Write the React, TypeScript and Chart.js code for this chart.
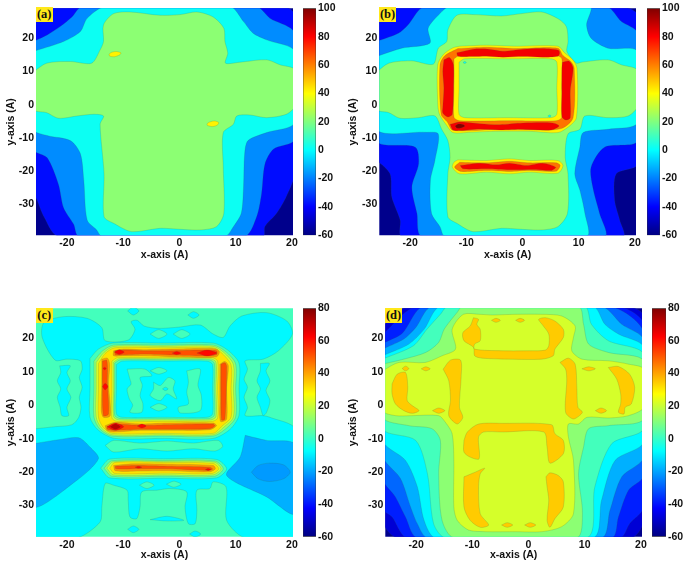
import React, { useEffect, useRef } from "react";
import { Chart, registerables } from "chart.js";
Chart.register(...registerables);

const xTicks = [-20, -10, 0, 10, 20];
const yTicks = [-30, -20, -10, 0, 10, 20];
const xRange = [-25.5, 20.2];
const yRange = [-39.3, 29];
const barTicksHigh = [-60, -40, -20, 0, 20, 40, 60, 80, 100];
const barTicksLow = [-60, -40, -20, 0, 20, 40, 60, 80];
const whole = [-60, 60, 60, 60, 60, -70, -60, -70];

// ---------- panel (a): contour outlines as [x, y, x, y, ...] in axis units
const aM40 = [-40, 45, 18.8, 29.5, 20.5, 27, 20.5, -20.8, 19, -27.7, 17.3, -32.7, 15.2, -36.7, 14.9, -39.6, -21.5, -39.6, -24.1, -33.7, -26, -26.7, -40, 0];
const aM20 = [-26, 19, -23.5, 21, -21.2, 23.5, -19.1, 26.4, -17.3, 29.5, 13.7, 29.5, 16.1, 26, 20.5, 21.5, 20.5, -10.4, 16.7, -13.4, 15.2, -17.9, 14.6, -26.9, 13.7, -33.9, 11.6, -39.6, -17.9, -39.6, -18.8, -36, -20.6, -31, -21.5, -24, -23.5, -16, -26, -13.4];
const aZero = [-26, 16, -20.6, 19, -17.6, 22, -16.4, 26, -13.2, 29.5, 9, 29.5, 11.4, 25, 13.1, 21.5, 15.5, 19.5, 20.5, 16, 20.5, -5.4, 15.5, -8.4, 12.2, -10.8, 11.6, -14.8, 11.4, -24.8, 11, -32.7, 9.6, -36.7, 8.1, -39.6, -13.8, -39.6, -14.7, -37.7, -16.4, -34.7, -17, -22.8, -17.6, -14.8, -19.4, -10.8, -23.5, -9.3, -26, -7.4];
const aGreen = [-26, 9.8, -23.6, 12.5, -19.4, 13, -15.6, 12.5, -14.1, 16.5, -13.5, 19, -13.5, 24, -11.7, 27.4, -8.8, 27.9, -3.4, 26.9, 0.1, 27.1, 3.1, 27.9, 6, 26.4, 7.9, 23, 8.1, 19, 8.6, 15.5, 8.2, 12.5, 10.8, 12.8, 15.5, 13.5, 17.9, 12, 20.5, 10.5, 20.5, -0.4, 19, -2.9, 15.5, -3.9, 12.5, -3.1, 10.2, -3.4, 9.6, -5.9, 7.8, -8.4, 7.8, -18.8, 7.9, -32.7, 6.6, -36.7, 3.7, -37.7, 0.1, -37.5, -3.4, -37.2, -8.5, -38.2, -11.7, -35.7, -13.4, -33.7, -13.4, -20.8, -14.1, -5.9, -13.5, -3.4, -15.3, -2.9, -18.2, -3.4, -21.5, -4.1, -23.6, -2.4, -26, -1.4];
const aSpot1 = [-12.4, 14.6, -11.6, 14.4, -10.6, 15, -10.4, 15.6, -11.2, 16, -12, 15.8, -12.5, 15.2];
const aSpot2 = [5, -6.3, 5.8, -6.6, 6.7, -6.2, 7, -5.4, 6.3, -4.9, 5.4, -5.2, 4.9, -5.8];
const layersA: [number, number[]][] = [[-60, whole], [-40, aM40], [-20, aM20], [0, aZero], [20, aGreen], [40, aSpot1], [40, aSpot2]];

// ---------- panel (b)
const bM40 = [-40, 45, 17.9, 29.5, 20.5, 26.9, 20.5, -17.8, 16.7, -20.8, 16.4, -28.7, 17.3, -34.7, 17.9, -39.6, -21.5, -39.6, -21.8, -34.7, -23.3, -27.7, -23.6, -20.8, -26, -16.8, -40, 0];
const bM20 = [-26, 19, -22.1, 21.5, -20.4, 24, -17.4, 29.5, 14.9, 29.5, 17.6, 25, 20.5, 21.5, 20.5, -10.8, 14.6, -12.8, 12.2, -18.8, 12.5, -24.8, 13.7, -32.7, 14.6, -39.6, -17.9, -39.6, -18.8, -32.7, -19.7, -24.8, -18.5, -17.8, -19.1, -12.8, -26, -10.8];
const bZero = [-26, 14.5, -21.5, 17, -16.5, 18.5, -16.8, 23, -15, 26.9, -13, 29.5, 12, 29.5, 11.4, 24, 12.2, 20, 15.2, 17, 20.5, 16, 20.5, -5.4, 15.2, -7.4, 10.8, -8.4, 10.2, -12.8, 9.3, -20.8, 10.2, -25.7, 11.1, -32.7, 11.4, -39.6, -13.8, -39.6, -14.7, -36.7, -16.2, -32.7, -16.4, -22.8, -15.6, -16.8, -15, -8.8, -17.3, -8.3, -26, -7.4];
const bGreen = [-26, 9.8, -23.8, 12.5, -19.7, 13.2, -15.9, 12.2, -15, 17, -13.5, 19, -13.3, 22.5, -11.7, 26.9, -8.5, 27.1, -3.7, 26.7, -0.2, 27.4, 3.4, 27.9, 6.3, 25.9, 7.8, 23.5, 8.1, 19, 7.9, 16, 9.6, 12.5, 10.5, 12.8, 15.2, 13.5, 17.6, 12, 20.5, 10.3, 20.5, -0.4, 18.8, -3.4, 15.2, -3.9, 11.1, -3.4, 10.2, -7.4, 8.1, -8.8, 7.6, -15.8, 8.1, -20.8, 8, -32.7, 6.3, -36.7, 3.4, -37.7, -0.2, -37.5, -3.7, -37.2, -8.8, -38.2, -11.7, -35.7, -13.3, -33.7, -13.3, -20.8, -12.9, -15.8, -13.3, -10.8, -14.4, -7.4, -15.6, -3.4, -18.5, -3.9, -21.8, -4.1, -23.8, -2.4, -26, -1.4];
const bRingYellow = [-11.2, 17.6, -6.4, 17.9, -1.1, 17.6, 6.3, 17.6, 7.5, 15.6, 8.9, 13.6, 9.7, 11, 9.6, -3.9, 8.3, -6.5, 6.3, -8.4, 1.2, -8, -4.7, -8, -9.4, -8.3, -12.4, -8.4, -13.6, -6, -14.8, -2.9, -15.1, 0.6, -15.1, 12, -14.1, 15.1, -12.4, 17.1];
const bRingOrange = [-11.5, 16.9, -6.4, 17.3, -1.1, 16.9, 6.3, 17, 7.2, 14.8, 8.6, 13, 9.2, 11, 9, -3.9, 6.9, -7.2, 1.2, -7.6, -4.7, -7.5, -12.4, -7.7, -13.4, -5.2, -14.5, -2.9, -14.7, 12, -13.8, 14.8];
const bInnerYellow = [-12.2, 13.8, -11.2, 14.8, -2, 14.8, 6, 14.8, 7, 13.8, 7, 5, 7, -3.8, 6, -4.8, -2, -4.8, -11.2, -4.8, -12.2, -3.8, -12.2, 5];
const bInnerGreen = [-11.3, 12.8, -10.3, 13.8, -2.5, 13.8, 5.1, 13.8, 6.1, 12.8, 6.1, 5, 6.1, -2.9, 5.1, -3.9, -2.5, -3.9, -10.3, -3.9, -11.3, -2.9, -11.3, 5];
const bDot1 = [-10.6, 12.7, -10.3, 13, -10, 12.7, -10.3, 12.4];
const bDot2 = [4.5, -3.4, 4.8, -3.1, 5.1, -3.4, 4.8, -3.7];
const bRedTop = [-11.7, 15.6, -8.8, 16.7, -5.9, 16.7, -3.5, 16.1, 0.1, 16.7, 3.6, 16.9, 6.4, 16.4, 6.6, 15.5, 6.3, 14.6, 3.6, 14.3, 0.1, 14.5, -3.5, 14.3, -6.4, 14.6, -8.8, 14.5, -11.5, 14.6];
const bRedLeft = [-14, 13.5, -13, 14.2, -12.3, 12, -12.3, 5, -12.5, -2.9, -13.3, -3.7, -14.2, -2.5, -14.2, -0.9, -14, 5, -14.2, 10];
const bRedRight = [7.1, 12.8, 8.3, 13.1, 9, 11, 8.5, 4.1, 8.5, -3.9, 7.7, -4.6, 7, -3.6, 7, 4.1, 7, 11];
const bRedBottom = [-12.9, -5.9, -11.2, -5.2, -7.6, -5.7, -4.1, -6, 0.1, -5.5, 5.4, -5.5, 6.5, -6.4, 5.1, -7.6, 0.1, -7.4, -4.1, -7.6, -7.6, -7.3, -11.2, -7.8, -12.4, -7.6];
const bDark = [-12, -6.4, -11.4, -5.8, -10.5, -6, -10.3, -6.5, -11, -7, -11.7, -7];
const bBarYellow = [-11.5, -16.6, -6.4, -16.8, -2.3, -16.3, 1.2, -16.8, 6.3, -16.8, 7.2, -18.3, 6.3, -20.6, 1.2, -20.3, -2.3, -20.8, -6.4, -20.3, -11.2, -20.8, -12.5, -18.8, -12.2, -17.3];
const bBarOrange = [-11.2, -17.3, -6.4, -17.5, -2.3, -17, 1.2, -17.5, 6, -17.5, 6.7, -18.3, 6, -20, 1.2, -19.8, -2.3, -20.1, -6.4, -19.8, -10.9, -20.1, -12.1, -18.8];
const bBarRed = [-11.1, -18.3, -7.6, -17.6, -4.7, -18.1, -2.3, -17.6, 0.7, -18.3, 3.6, -17.6, 5.9, -18.8, 5.1, -19.8, 2.4, -19.5, -2.3, -19.6, -6.4, -19.3, -10.6, -19.3];
const layersB: [number, number[]][] = [[-60, whole], [-40, bM40], [-20, bM20], [0, bZero], [20, bGreen], [40, bRingYellow], [60, bRingOrange], [40, bInnerYellow], [20, bInnerGreen], [0, bDot1], [0, bDot2], [80, bRedTop], [80, bRedLeft], [80, bRedRight], [80, bRedBottom], [100, bDark], [40, bBarYellow], [60, bBarOrange], [80, bBarRed]];

// ---------- panel (c)
const cCyan = [-26, -7.1, -22.1, -6.4, -19.1, -5.8, -17.9, -3.6, -17.5, -0.6, -17.8, 2.4, -17.3, 5.4, -17.8, 8.3, -17.3, 10.8, -17.6, 13.3, -20, 13.8, -22.1, 13.5, -24.4, 20.3, -24.1, 24.7, -20.6, 26.5, -16.4, 26, -13.8, 23.2, -13.2, 19.3, -9.1, 19.5, -7.9, 22.7, -8.6, 25, -7.5, 25.4, -6.3, 23.7, -3.7, 23, 0.1, 23.4, 3.7, 24, 6, 21.3, 7.8, 20.3, 9, 23.7, 11.1, 26.7, 15.5, 27.7, 19.1, 25.2, 20.1, 21.3, 17.6, 16.3, 14.9, 13.8, 11.7, 13.3, 12.1, 10.8, 11.5, 7.8, 12.1, 5.4, 11.5, 2.4, 12.1, -0.6, 11.7, -3.1, 14.9, -3.1, 16.1, -3.6, 20.6, -7.1, 20.6, -25, 20.6, -39.7, 11.7, -39.7, 8.4, -34.4, 8.3, -24.4, 6, -22.9, 5.4, -24.9, 3.1, -25.4, 3.1, -31.4, 2.8, -35.4, 1.6, -35.4, 1, -30.4, 1.3, -25.9, -1.7, -24.9, -4, -25.4, -6.7, -25.9, -7, -30.4, -7.6, -33.9, -8.8, -33.4, -9.1, -28.4, -9.3, -25.4, -11.7, -23.9, -13.2, -23.4, -13.8, -30.4, -14.1, -34.9, -18.2, -39.7, -26, -39.7, -26, -25];
const cStripL = [-21.3, 11.8, -19.4, 11.8, -20, 9.8, -19.4, 7.3, -20, 4.9, -19.3, 2.4, -20, -0.6, -19.7, -3.1, -20.9, -3.1, -21.2, -0.6, -21.7, 2.4, -21.1, 4.9, -21.7, 7.3, -21.1, 9.8];
const cStripR = [14.4, 12.5, 16, 12.5, 15.4, 10.3, 16.1, 7.3, 15.4, 4.4, 16.1, 1.4, 15.5, -2.1, 14.9, -3.1, 14.4, -0.6, 13.8, 2.4, 14.4, 4.9, 13.8, 7.3, 14.4, 10.3];
const cCyanTop1 = [-9.2, 28.2, -8.2, 29.4, -7.2, 28.2, -8.2, 27];
const cCyanTop2 = [1.5, 27, 2.5, 28, 3.5, 27, 2.5, 26];
const cCyanBot1 = [-9.2, -37.1, -8.2, -36.1, -7.2, -37.1, -8.2, -38.1];
const cCyanBot2 = [1.8, -38.5, 2.8, -37.6, 3.8, -38.5, 2.8, -39.4];
const cCyanBot3 = [-5.2, -34.2, -2.2, -33.2, 0.8, -34.4, -2.2, -34.6];
const cBlueL = [-26, -11.5, -21.5, -10.3, -17.9, -9.7, -15.9, -12.5, -14.4, -16, -18.2, -22.4, -26, -30.4];
const cBlueR = [11.7, -9, 15.5, -10.5, 20.5, -11.7, 20.5, -32.4, 15.5, -27.4, 8.4, -21, 10.8, -15.5];
const cBlueOval = [12.8, -20, 14, -18, 16, -17.3, 18.5, -17.8, 19.7, -20, 18.5, -22, 16, -22.8, 14, -22];
const cTealTop1 = [-5.2, 21.3, -3.7, 22.6, -2.2, 21.3, -3.7, 20];
const cTealTop2 = [-1.1, 21.3, 0.4, 22.6, 1.9, 21.3, 0.4, 20];
const cRibbon = [-13.2, -12, -11.7, -10.5, -7, -11.3, -2.2, -10.7, 2.5, -11.3, 6.9, -10.5, 7.7, -12.3, 6.3, -13.7, 2.5, -13, -2.2, -13.7, -7, -13, -11.7, -14];
const cBelow1 = [-7.1, -23.9, -5.8, -22.9, -4.5, -23.9, -5.8, -24.9];
const cBelow2 = [-2.3, -23.6, -1, -22.7, 0.3, -23.6, -1, -24.5];
const cRing0 = [-15.9, 14, -14.4, 16.8, -11.8, 18.6, -3, 18.6, 6, 18.6, 8.6, 16.5, 10.6, 12.6, 10.6, 5, 10.6, -3, 9, -7.2, 6, -9.9, -3, -9.9, -11.5, -9.9, -14.4, -7.5, -15.9, -3.6, -15.9, 5];
const cRing10 = [-15.2, 13.2, -13.7, 16.2, -11.7, 18, -3, 18, 6, 18, 8.2, 16.1, 10, 12.4, 10, 5, 10, -3.5, 8.4, -6.8, 6, -9.2, -3, -9.2, -12, -9.2, -14.2, -7, -15.2, -3.5, -15.2, 5];
const cRing20 = [-14.8, 12.8, -13.4, 15.8, -11.6, 17.6, -3, 17.6, 6, 17.6, 7.9, 15.8, 9.6, 12.2, 9.6, 5, 9.6, -3.5, 8, -6.4, 6, -8.8, -3, -8.8, -12, -8.8, -13.9, -6.7, -14.8, -3.5, -14.8, 5];
const cRing30 = [-14.4, 12.5, -13.2, 15.5, -11.5, 17.2, -3, 17.2, 6, 17.2, 7.6, 15.5, 9.2, 12, 9.2, 5, 9.2, -3.5, 7.6, -6.2, 6, -8.4, -3, -8.4, -12, -8.4, -13.6, -6.5, -14.4, -3.5, -14.4, 5];
const cHole20 = [-12, 13.2, -11, 14.2, -3, 14.2, 5.8, 14.2, 6.8, 13.2, 6.8, 5, 6.8, -3.8, 5.8, -4.8, -3, -4.8, -11, -4.8, -12, -3.8, -12, 5];
const cHole10 = [-11.7, 12.9, -10.7, 13.9, -3, 13.9, 5.5, 13.9, 6.5, 12.9, 6.5, 5, 6.5, -3.4, 5.5, -4.4, -3, -4.4, -10.7, -4.4, -11.7, -3.4, -11.7, 5];
const cHole0 = [-11.5, 12.6, -10.5, 13.6, -3, 13.6, 5.2, 13.6, 6.2, 12.6, 6.2, 5, 6.2, -3, 5.2, -4, -3, -4, -10.5, -4, -11.5, -3, -11.5, 5];
const cHoleCyan = [-11.2, 12.2, -10.2, 13.2, -3, 13.2, 4.9, 13.2, 5.9, 12.2, 5.9, 5, 5.9, -2.6, 4.9, -3.6, -3, -3.6, -10.2, -3.6, -11.2, -2.6, -11.2, 5];
const cIslandL = [-9.3, 10.8, -6.1, 10.8, -4.9, 8.8, -7, 8.3, -6.6, 6, -7, 2.9, -6.5, 0.5, -6.7, -2.1, -8.8, -2.1, -8.3, 0, -8.9, 1.9, -9.3, 4.9, -8.6, 6.3, -8.8, 7.8];
const cIslandC = [-4.6, 6.9, -3.4, 5.9, -2, 8.3, -0.8, 7.3, -1.1, 4.9, -0.5, 1.9, -2.2, 3.4, -3.4, 1.4, -5.2, 2.9, -4.6, 4.9];
const cIslandHole = [-3, 4.9, -2.5, 5.4, -2, 4.9, -2.5, 4.4];
const cIslandR = [1.3, 10.3, 3.7, 10.8, 3.3, 6, 3.9, 3, 3.7, -1.6, 0.1, -2.3, -0.2, -0.6, 1.6, 0.4, 1.3, 3.9, 1.6, 6.9];
const cIslandT = [-5.2, 10.3, -3.7, 11.3, -2.2, 10.3, -3.7, 9.3];
const cIslandB = [-5.2, -0.6, -3.7, 0.5, -2.2, -0.6, -3.7, -1.7];
const cTop40 = [-11.7, 16.3, -9.9, 16.8, -6.4, 16.6, -1.1, 16.8, 3.7, 17, 6.6, 16.8, 7.1, 15.8, 6.6, 14.5, 3.7, 14.3, -1.1, 14.5, -6.4, 14.8, -9.9, 14.8, -11.7, 14.8];
const cLeft40 = [-13.8, 13.8, -12.8, 14.1, -12.4, 12.3, -12.6, 6.4, -12.3, -3.1, -13.5, -3.6, -13.9, -1.6, -13.8, 6.4];
const cRight40 = [7.2, 12.3, 8.1, 13.1, 8.7, 11.8, 8.4, 5.4, 8.4, -4.1, 7.3, -4.8, 7.2, 1.4];
const cBottom40 = [-13.2, -6.1, -11.4, -5.1, -7, -5.6, -2.2, -5.3, 6, -5.3, 6.6, -6.1, 5.4, -7.3, -2.2, -7.5, -7, -7.5, -11.7, -8, -12.9, -7.5];
const cTop50 = [-11.4, 16.3, -9.9, 16.5, -6.4, 16.3, -1.1, 16.3, 3.7, 16.5, 6.6, 16.3, 6.6, 15.1, 3.7, 14.8, -1.1, 15, -6.4, 15.3, -11.4, 15.1];
const cLeft50 = [-13.7, 13.2, -12.9, 13.4, -12.8, 6.4, -12.6, -2.6, -13.5, -3.1, -13.7, 6.4];
const cRight50 = [7.4, 12.3, 8.1, 12.7, 8.4, 11.6, 8.1, -4.1, 7.5, -4.4, 7.4, 3.4];
const cBottom50 = [-12.9, -6.4, -11.4, -5.6, -7, -6, -2.2, -5.8, 6, -5.6, 6.3, -6.2, 5.4, -7, -2.2, -7.2, -7, -7.2, -11.7, -7.5, -12.8, -7.2];
const cRed1 = [-11.6, 15.9, -10.7, 16.6, -9.8, 15.9, -10.7, 15.2];
const cRed2 = [-1.3, 15.6, -0.5, 16.1, 0.3, 15.6, -0.5, 15.1];
const cRed3 = [3.1, 15.6, 4.9, 16.5, 6.7, 15.6, 4.9, 14.7];
const cRed4 = [-13.7, 5.6, -13.2, 6.6, -12.7, 5.6, -13.2, 4.6];
const cRed5 = [-13.6, 11, -13.3, 11.4, -13, 11, -13.3, 10.6];
const cRed6 = [-12.9, -6.4, -11.4, -5.3, -9.9, -6.4, -11.4, -7.5];
const cRed7 = [-7.5, -6.2, -6.7, -5.6, -5.9, -6.2, -6.7, -6.8];
const cRed8 = [-7.9, -18.5, -7.3, -18.2, -6.7, -18.5, -7.3, -18.8];
const cRed9 = [4.6, -19.2, 5.1, -18.9, 5.6, -19.2, 5.1, -19.5];
const cDark = [-12.3, -6.4, -11.4, -5.6, -10.5, -6.4, -11.4, -7.2];
const cBar0 = [-14, -18.8, -12.4, -16.1, -2.8, -16, 6.6, -16.2, 8.4, -19, 6.6, -21.7, -2.8, -21.8, -12.4, -21.7];
const cBar10 = [-13.4, -18.8, -12, -16.6, -2.8, -16.5, 6.4, -16.7, 7.8, -19, 6.3, -21.2, -2.8, -21.2, -12, -21.2];
const cBar20 = [-12.9, -18.8, -11.8, -16.9, -2.8, -16.8, 6.2, -17, 7.4, -19, 6, -20.8, -2.8, -20.8, -11.8, -20.8];
const cBar30 = [-12.4, -18.8, -11.5, -17.1, -2.8, -17.1, 6, -17.4, 7, -19, 5.8, -20.4, -2.8, -20.3, -11.5, -20.4];
const cBar40 = [-11.7, -18, -8.2, -17.5, -2.2, -17.6, 6, -18, 6.4, -19, 5.4, -19.9, -2.2, -19.6, -8.2, -19.7, -11.4, -19.6];
const cBar50 = [-11.4, -18.2, -7.6, -18, -2.2, -18.2, 5.4, -18.5, 5.9, -19.1, 4.9, -19.5, -2.2, -19, -7.6, -19, -11.3, -19];
const layersC: [number, number[]][] = [
  [0, whole], [-10, cCyan], [-10, cStripL], [-10, cStripR], [-10, cCyanTop1], [-10, cCyanTop2], [-10, cCyanBot1], [-10, cCyanBot2], [-10, cCyanBot3],
  [-20, cBlueL], [-20, cBlueR], [-23, cBlueOval], [0, cTealTop1], [0, cTealTop2], [0, cRibbon], [0, cBelow1], [0, cBelow2],
  [0, cRing0], [10, cRing10], [20, cRing20], [30, cRing30], [20, cHole20], [10, cHole10], [0, cHole0], [-10, cHoleCyan],
  [0, cIslandL], [0, cIslandC], [-10, cIslandHole], [0, cIslandR], [0, cIslandT], [0, cIslandB],
  [40, cTop40], [40, cLeft40], [40, cRight40], [40, cBottom40], [50, cTop50], [50, cLeft50], [50, cRight50], [50, cBottom50],
  [0, cBar0], [10, cBar10], [20, cBar20], [30, cBar30], [40, cBar40], [50, cBar50],
  [60, cRed1], [60, cRed2], [60, cRed3], [60, cRed4], [60, cRed5], [60, cRed6], [60, cRed7], [60, cRed8], [60, cRed9], [70, cDark],
];

// ---------- panel (d)
const dM50 = [-26, 23.7, -21.4, 29.5, 17.8, 29.5, 20.5, 26.7, 20.5, -34.4, 18.3, -39.6, -23.4, -39.6, -26, -34.4];
const dM40 = [-26, 21.2, -19.9, 29.5, 16, 29.5, 20.5, 24.2, 20.5, -30.4, 18, -35.4, 16.3, -39.6, -21.6, -39.6, -24.3, -33.4, -26, -30.9];
const dM30 = [-26, 18.5, -22.5, 21.5, -18.7, 29.5, 14.5, 29.5, 20.5, 21.7, 20.5, -21, 17.8, -25.4, 16, -33.4, 14.8, -39.6, -19.8, -39.6, -21.9, -33.4, -23.7, -27.4, -26, -21.9];
const dM20 = [-26, 16.8, -22.2, 19.8, -20.1, 23.2, -17.2, 29.5, 13, 29.5, 16.6, 24.2, 20.5, 19.5, 20.5, -15.5, 16.6, -21.4, 14.5, -31.4, 13, -39.6, -18, -39.6, -19.8, -35.4, -21, -30.4, -22.8, -21.9, -26, -15];
const dM10 = [-26, 14.8, -21.3, 18.3, -18.6, 22.7, -15.7, 29.5, 11.5, 29.5, 13.6, 24.2, 16, 21.3, 20.5, 17.3, 20.5, -11, 15.4, -16.5, 13, -28.4, 11.5, -39.6, -16.6, -39.6, -18.6, -34.4, -19.8, -24.4, -21.9, -16.5, -26, -10.5];
const dZero = [-26, 13.8, -20.5, 17.8, -18.1, 22.7, -15.7, 27.2, -14.4, 29.5, 10, 29.5, 11.2, 24.2, 14.2, 19.3, 20.5, 15.3, 20.5, -7, 14.8, -11.5, 11.8, -24.4, 10.4, -39.6, -14.8, -39.6, -16.9, -35.4, -18, -20.5, -20.1, -10.5, -26, -7];
const dP10 = [-26, 12.3, -22.2, 13.8, -18.3, 15.8, -16, 18.8, -15, 22.8, -12.7, 27.8, -11.8, 29.5, 8.9, 29.5, 9.8, 24.2, 10.7, 18.3, 14.2, 15.8, 20.5, 13.3, 20.5, -4.1, 14.2, -6.1, 10.7, -7, 9.8, -12.5, 8.9, -20.5, 9.6, -32.4, 8.6, -39.6, -13.3, -39.6, -15.4, -34.4, -16, -20.5, -15.7, -10.5, -17.2, -7, -21.3, -6.1, -26, -3.6];
const dP20 = [-26, 10.3, -23.1, 12.8, -18.4, 12.8, -15.4, 14.8, -13, 16.8, -13.6, 22.7, -11.6, 27.2, -8.7, 27.2, -6.5, 27, -2.4, 27.2, 2.4, 27.2, 5.9, 26.7, 8.3, 23.7, 8, 20.3, 7.7, 16.3, 9.5, 13.8, 14.2, 13.3, 17.8, 12.3, 20.5, 10.8, 20.5, -0.6, 17.8, -3.1, 14.2, -3.8, 10.4, -3.6, 8.9, -5.6, 7.1, -5.6, 7.1, -9.5, 8, -16.5, 8, -32.4, 5.9, -36.3, 2.4, -37.8, -2.4, -37.8, -7.7, -37.8, -10.7, -37.3, -12.7, -34.4, -13.3, -30.4, -13.3, -16.5, -13.6, -8.5, -14.8, -5.1, -16, -3.1, -20.7, -3.1, -23.7, -3.1, -26, -1.6];
const dTopU = [-9.8, 26.2, -8.9, 25.7, -9.2, 24.2, -8.6, 22.7, -8.6, 19.3, -9.6, 18.3, -9.6, 16.8, -4.7, 16.3, 0, 16.3, 3, 16.5, 3.6, 17.8, 3.6, 21.3, 2.4, 24.2, 1.8, 25.7, 3, 26.2, 4.7, 25.2, 6.2, 22.7, 6.2, 20.3, 4.7, 16.8, 4.4, 14.8, 2.4, 13.8, -3.6, 13.8, -8.3, 14.1, -9.6, 14.8, -9.8, 17.3, -11.5, 19.3, -11.7, 21.7, -10.4, 23.7];
const dSmall1 = [-6.6, 25.4, -5.8, 26, -5, 25.4, -5.8, 24.8];
const dSmall2 = [-2.3, 25.4, -1.5, 26, -0.7, 25.4, -1.5, 24.8];
const dLeftV = [-24.3, 6.4, -23.4, 9.3, -21.9, 9.8, -21.5, 5.4, -21.6, 1.4, -20.7, -0.1, -19.5, -1.6, -20.7, -2.4, -22.2, -1.6, -23.7, 0.4, -24.3, 3.4];
const dSmall3 = [-22.5, 11, -21.9, 11.7, -21.3, 11, -21.9, 10.3];
const dSmall4 = [-19.1, 10.9, -18.3, 11.5, -17.5, 10.9, -18.3, 10.3];
const dSmall5 = [-17.1, -1.6, -16, -0.8, -14.9, -1.6, -16, -2.4];
const dCenterL = [-15.2, 10.8, -13.9, 13.5, -12.1, 13.5, -12, 8.3, -12.3, -0.6, -11.7, -3.6, -12.7, -5.6, -14.2, -3.1, -13.9, 1.4, -14.2, 7.3];
const dCenterR = [5.6, 12.8, 7.1, 14.1, 8.3, 12.3, 8.6, 5.4, 8.8, -0.6, 9.6, -2.1, 8, -4.1, 6.6, -2.1, 6.8, 7.3, 6.6, 10.8];
const dSmall6 = [9.5, 10.9, 10.7, 11.5, 11.9, 10.9, 10.7, 10.3];
const dSmall7 = [11.9, -1.6, 12.9, -0.8, 13.9, -1.6, 12.9, -2.4];
const dRightV = [14.2, 11.3, 16, 11.6, 18, 9.3, 18.9, 5.4, 18.3, 0.4, 17.2, -0.6, 17, -2.6, 16, -2.1, 16.4, 0.4, 16.4, 3.4, 15.7, 7.8];
const dLowerU = [-11.5, -10.5, -10.9, -8, -8.9, -5.6, -4.7, -5.4, 4.1, -5.8, 4.7, -8.5, 6.2, -10.5, 6.2, -14.5, 3.8, -17.3, 3.3, -12.5, 2.7, -8, -4.7, -8, -8, -8, -8.9, -9.5, -8.8, -16, -10.4, -15.5, -11.5, -14];
const dBottomL = [-11.5, -21.4, -9.5, -20, -7.8, -18.8, -8.6, -20.5, -8.9, -24.4, -8.6, -32.4, -7.1, -35.8, -8.6, -36.5, -10.4, -34.4, -11.5, -30.4];
const dSmall8 = [-4.8, -35.8, -3.8, -35.1, -2.8, -35.8, -3.8, -36.5];
const dSmall9 = [-0.7, -35.8, 0.3, -35.1, 1.3, -35.8, 0.3, -36.5];
const dBottomR = [3.1, -21.4, 3.8, -20.2, 5.3, -21, 6.2, -22.9, 6.2, -30.4, 4.7, -33.9, 3.8, -36.5, 3.3, -34.4, 3.6, -28.4, 3.3, -24.4];
const isl = 33;
const layersD: [number, number[]][] = [
  [-60, whole], [-50, dM50], [-40, dM40], [-30, dM30], [-20, dM20], [-10, dM10], [0, dZero], [10, dP10], [20, dP20],
  [isl, dTopU], [isl, dSmall1], [isl, dSmall2], [isl, dLeftV], [isl, dSmall3], [isl, dSmall4], [isl, dSmall5], [isl, dCenterL], [isl, dCenterR], [isl, dSmall6], [isl, dSmall7], [isl, dRightV], [isl, dLowerU], [isl, dBottomL], [isl, dSmall8], [isl, dSmall9], [isl, dBottomR],
];

const jetStops: [number, number, number, number][] = [[0, 0, 0, 128], [0.125, 0, 0, 255], [0.375, 0, 255, 255], [0.625, 255, 255, 0], [0.875, 255, 0, 0], [1, 128, 0, 0]];
function jet(t: number) {
  for (let i = 1; i < jetStops.length; i++) {
    const a = jetStops[i - 1], b = jetStops[i];
    if (t <= b[0]) {
      const f = (t - a[0]) / (b[0] - a[0]);
      return `rgb(${Math.round(a[1] + (b[1] - a[1]) * f)},${Math.round(a[2] + (b[2] - a[2]) * f)},${Math.round(a[3] + (b[3] - a[3]) * f)})`;
    }
  }
  return "rgb(128,0,0)";
}

const family = "'Liberation Sans', Arial, sans-serif";
const tickFont = { family, size: 10.5, weight: "bold" as const };
const titleFont = { family, size: 10.5, weight: "bold" as const };
const noGrid = { display: false, drawTicks: false, tickLength: 0 };

type Geo = { left: number; top: number; plotLeft: number; plotRight: number; plotTop: number; plotBottom: number; barLeft: number; barRight: number; cmax: number };

function Panel({ g, layers, name }: { g: Geo; layers: [number, number[]][]; name: string }) {
  const plot = useRef<HTMLCanvasElement>(null);
  const bar = useRef<HTMLCanvasElement>(null);
  const W = g.plotRight + 8, H = 265, BW = g.barRight - g.barLeft + 30;
  useEffect(() => {
    const cmin = -60;
    const datasets = layers.map(([level, flat]) => {
      const pts: { x: number; y: number }[] = [];
      for (let i = 0; i < flat.length; i += 2) pts.push({ x: flat[i], y: flat[i + 1] });
      pts.push(pts[0]);
      return {
        data: pts, showLine: true, fill: "shape", tension: 0.28, capBezierPoints: false, pointRadius: 0,
        backgroundColor: jet(Math.min(1, (level - cmin) / (g.cmax - cmin) + 0.012)), borderColor: "rgba(50,90,70,0.35)", borderWidth: 0.5,
      };
    }).reverse();
    const c1 = new Chart(plot.current!, {
      type: "scatter",
      data: { datasets } as any,
      options: {
        animation: false, responsive: false, devicePixelRatio: 1,
        layout: { autoPadding: false, padding: { top: g.plotTop, right: W - g.plotRight, left: 0, bottom: 0 } },
        plugins: { legend: { display: false }, tooltip: { enabled: false } },
        scales: {
          x: {
            type: "linear", min: xRange[0], max: xRange[1], grid: noGrid, border: { display: false },
            afterBuildTicks: (s: any) => { s.ticks = xTicks.map((value) => ({ value })); },
            afterFit: (s: any) => { s.height = H - g.plotBottom; },
            ticks: { font: tickFont, color: "#111", padding: 2, maxRotation: 0, autoSkip: false },
            title: { display: true, text: "x-axis (A)", font: titleFont, color: "#111", padding: { top: 0, bottom: 4 } },
          },
          y: {
            type: "linear", min: yRange[0], max: yRange[1], grid: noGrid, border: { display: false },
            afterBuildTicks: (s: any) => { s.ticks = yTicks.map((value) => ({ value })); },
            afterFit: (s: any) => { s.width = g.plotLeft; },
            ticks: { font: tickFont, color: "#111", padding: 2, autoSkip: false },
            title: { display: true, text: "y-axis (A)", font: titleFont, color: "#111", padding: { top: 5, bottom: 0 } },
          },
        },
      } as any,
    });
    const barTicks = g.cmax === 100 ? barTicksHigh : barTicksLow;
    const c2 = new Chart(bar.current!, {
      type: "bar",
      data: {
        labels: ["colour"],
        datasets: [{
          data: [[cmin, g.cmax]], barPercentage: 1, categoryPercentage: 1, borderWidth: 0.7, borderColor: "#333", borderSkipped: false,
          backgroundColor: (ctx: any) => {
            const a = ctx.chart.chartArea;
            if (!a) return "#888";
            const grad = ctx.chart.ctx.createLinearGradient(0, a.bottom, 0, a.top);
            jetStops.forEach((s) => grad.addColorStop(s[0], `rgb(${s[1]},${s[2]},${s[3]})`));
            return grad;
          },
        }],
      } as any,
      options: {
        animation: false, responsive: false, devicePixelRatio: 1,
        layout: { autoPadding: false, padding: { top: g.plotTop, left: 2, right: 0, bottom: H - g.plotBottom } },
        plugins: { legend: { display: false }, tooltip: { enabled: false } },
        scales: {
          x: { display: false },
          y: {
            position: "right", min: cmin, max: g.cmax, grid: noGrid, border: { display: false },
            afterBuildTicks: (s: any) => { s.ticks = barTicks.map((value) => ({ value })); },
            afterFit: (s: any) => { s.width = 28; },
            ticks: { font: tickFont, color: "#111", padding: 2, autoSkip: false },
          },
        },
      } as any,
    });
    return () => { c1.destroy(); c2.destroy(); };
  }, []);
  const abs = { position: "absolute" as const, display: "block" };
  return (
    <div style={{ position: "absolute", left: g.left, top: g.top, width: 0, height: 0 }}>
      <canvas ref={plot} width={W} height={H} style={{ ...abs, left: 0, top: 0 }} />
      <canvas ref={bar} width={BW} height={H} style={{ ...abs, left: g.barLeft - 2, top: 0 }} />
      <div style={{ position: "absolute", left: g.plotLeft, top: g.plotTop, width: 16.5, height: 15, background: "#ffe81a", color: "#111", font: "bold 12.5px 'Liberation Serif', serif", lineHeight: "15px", textAlign: "center" }}>{name}</div>
    </div>
  );
}

const geoA: Geo = { left: 0, top: 0, plotLeft: 36, plotRight: 293, plotTop: 6.7, plotBottom: 235.3, barLeft: 303, barRight: 316, cmax: 100 };
const geoB: Geo = { left: 342, top: 0, plotLeft: 37.3, plotRight: 294.7, plotTop: 6.7, plotBottom: 235.3, barLeft: 304.7, barRight: 317.7, cmax: 100 };
const geoC: Geo = { left: 0, top: 300, plotLeft: 36, plotRight: 293, plotTop: 8, plotBottom: 236.7, barLeft: 302.7, barRight: 315.7, cmax: 80 };
const geoD: Geo = { left: 342, top: 300, plotLeft: 43.3, plotRight: 300, plotTop: 8, plotBottom: 236.7, barLeft: 310, barRight: 324, cmax: 80 };

export default function App() {
  return (
    <div style={{ position: "fixed", left: 0, top: 0, width: 685, height: 567, background: "#fff", overflow: "hidden" }}>
      <Panel g={geoA} layers={layersA} name="(a)" />
      <Panel g={geoB} layers={layersB} name="(b)" />
      <Panel g={geoC} layers={layersC} name="(c)" />
      <Panel g={geoD} layers={layersD} name="(d)" />
    </div>
  );
}
